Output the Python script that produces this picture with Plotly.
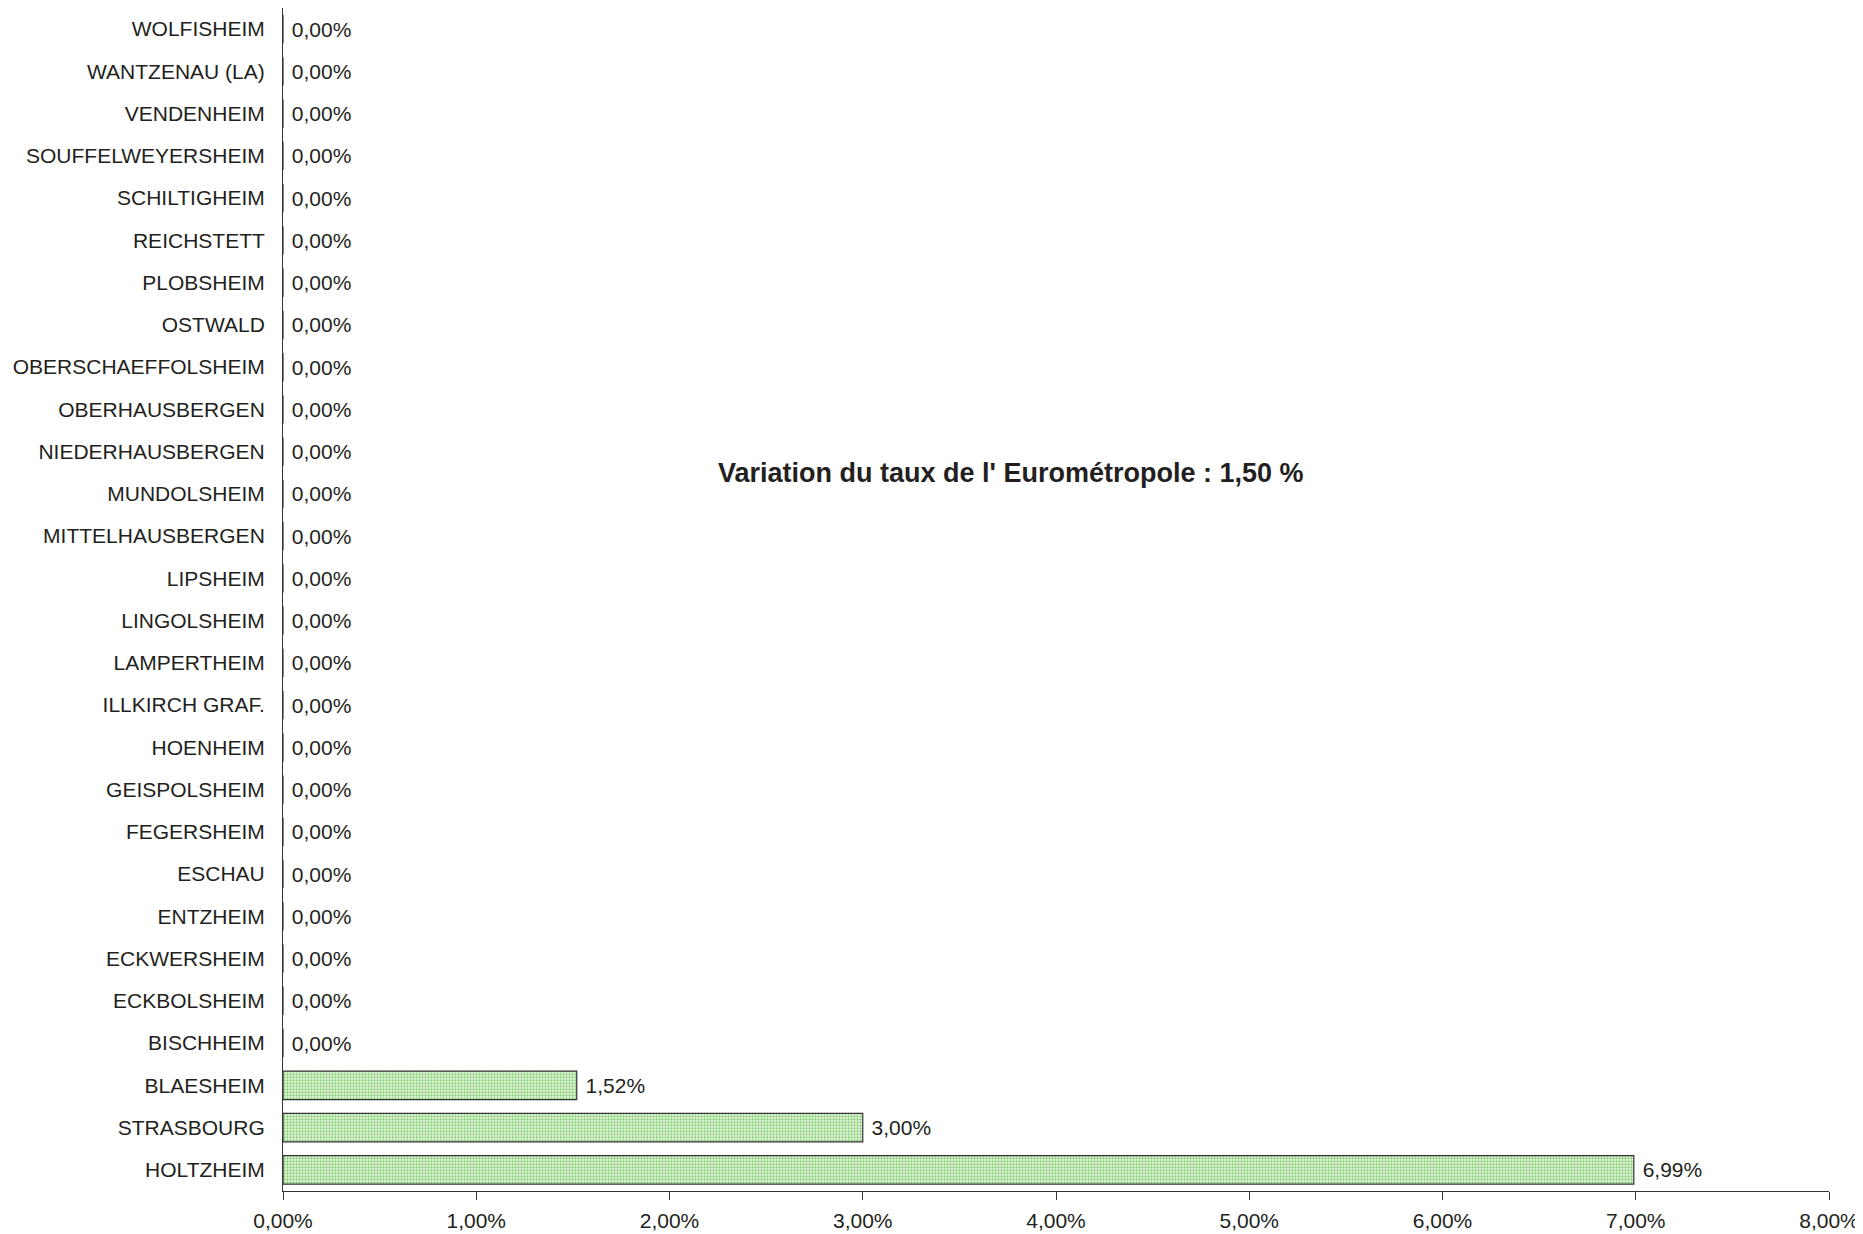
import plotly.graph_objects as go

communes = ["HOLTZHEIM", "STRASBOURG", "BLAESHEIM", "BISCHHEIM", "ECKBOLSHEIM",
            "ECKWERSHEIM", "ENTZHEIM", "ESCHAU", "FEGERSHEIM", "GEISPOLSHEIM",
            "HOENHEIM", "ILLKIRCH GRAF.", "LAMPERTHEIM", "LINGOLSHEIM", "LIPSHEIM",
            "MITTELHAUSBERGEN", "MUNDOLSHEIM", "NIEDERHAUSBERGEN", "OBERHAUSBERGEN",
            "OBERSCHAEFFOLSHEIM", "OSTWALD", "PLOBSHEIM", "REICHSTETT", "SCHILTIGHEIM",
            "SOUFFELWEYERSHEIM", "VENDENHEIM", "WANTZENAU (LA)", "WOLFISHEIM"]
variation = [0.0699, 0.0300, 0.0152] + [0.0] * 25
x_ticks = [0, 0.01, 0.02, 0.03, 0.04, 0.05, 0.06, 0.07, 0.08]

font_fam = "Liberation Sans, Arial, sans-serif"
txt = "#231f20"
# page body has an 8px margin: figure sized to end at the window edges
W, H = 1855, 1226
L, R, T, B = 275, 34, 0, 43

fig = go.Figure(go.Bar(
    x=variation, y=communes, orientation="h",
    marker=dict(
        color="#ffffff",
        line=dict(color="#333333", width=1.2),
        pattern=dict(shape=".", fgcolor="#86cf74", bgcolor="#eaf6e4",
                     size=3, solidity=0.45, fillmode="replace"),
    ),
    texttemplate="\u00a0%{x:.2%}", textposition="outside", cliponaxis=False,
    textfont=dict(size=21, color=txt, family=font_fam),
))

fig.update_layout(
    width=W, height=H,
    margin=dict(l=L, r=R, t=T, b=B, autoexpand=False),
    plot_bgcolor="white", paper_bgcolor="white",
    separators=", ",
    bargap=0.33,
    showlegend=False,
    font=dict(family=font_fam, color=txt, size=21),
    xaxis=dict(range=[0, 0.08], tickvals=x_ticks, tickformat=".2%", automargin=False,
               showgrid=False, zeroline=False, showline=True, linecolor="#333333",
               linewidth=1, ticks="outside", ticklen=8, tickcolor="#333333",
               ticklabelstandoff=3,
               tickfont=dict(size=21, color=txt)),
    yaxis=dict(categoryorder="array", categoryarray=communes, automargin=False,
               showgrid=False, zeroline=False, showline=True, linecolor="#333333",
               linewidth=1, ticks="outside", ticklen=13, tickcolor="rgba(0,0,0,0)",
               tickfont=dict(size=21, color=txt)),
)
plot_w = W - L - R
plot_h = H - T - B
fig.add_annotation(text="<b>Variation du taux de l' Eurométropole : 1,50 %</b>",
                   x=(1003 - L) / plot_w, y=(H - B - 465) / plot_h,
                   xref="paper", yref="paper", showarrow=False,
                   font=dict(size=27, color=txt, family=font_fam))

fig.write_html("out.html")
